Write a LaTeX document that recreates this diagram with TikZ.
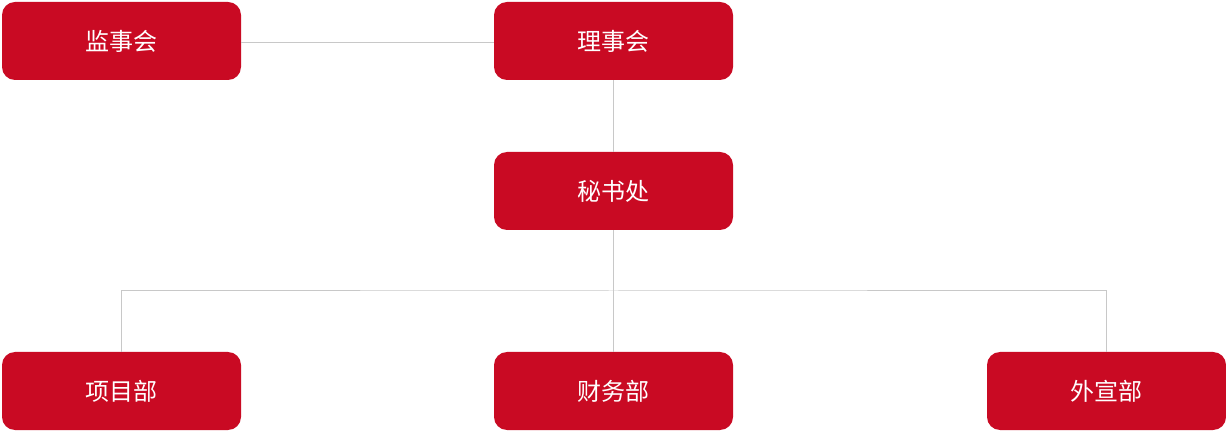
\documentclass[tikz,border=0pt]{standalone}
\usepackage{fontspec}
\newfontfamily\cjk{Noto Sans CJK SC}
\usetikzlibrary{positioning}
\definecolor{OrgRed}{HTML}{C90A23}
\definecolor{LinkGray}{HTML}{C8C8C8}

\begin{document}
\begin{tikzpicture}[
    x=1pt, y=1pt,
    unit/.style={rectangle, rounded corners=13pt, fill=OrgRed, text=white,
                 minimum width=239pt, minimum height=78pt, inner sep=0pt,
                 font=\cjk\fontsize{24}{28}\selectfont},
    link/.style={draw=LinkGray, line width=1pt}
]
  \useasboundingbox (0,0) rectangle (1226,431);

  % Top level
  \node[unit] (jsh) at (121.5,390) {监事会};
  \node[unit] (lsh) at (613.5,390) {理事会};
  \node[unit] (msc) at (613.5,240) {秘书处};

  % Departments
  \node[unit] (xmb) at (121.5,40) {项目部};
  \node[unit] (cwb) at (613.5,40) {财务部};
  \node[unit] (wxb) at (1106.5,40) {外宣部};

  % Connections
  \draw[link] ([yshift=-2pt]jsh.east) -- ([yshift=-2pt]lsh.west);
  \draw[link] (lsh.south) -- (msc.north);
  \draw[link] (msc.south) -- (cwb.north);
  \draw[link] (xmb.north) |- (613.5,140) -| (wxb.north);
\end{tikzpicture}
\end{document}
